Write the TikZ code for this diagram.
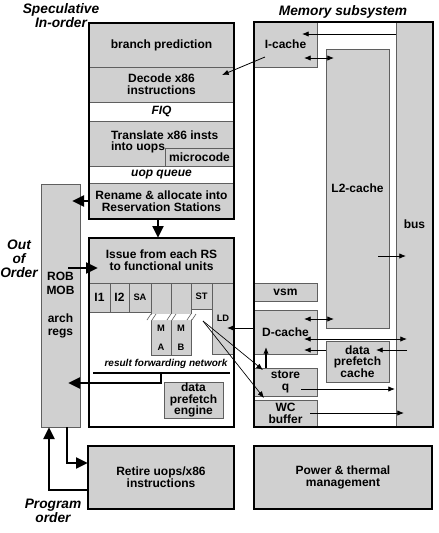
\documentclass[tikz,border=0pt]{standalone}
\usepackage{fontspec}
\setmainfont{Liberation Sans}
\usetikzlibrary{arrows.meta}
\definecolor{boxgray}{RGB}{208,208,208}
\definecolor{edgegray}{RGB}{95,95,95}
\newcommand\lbl{\fontsize{9}{8.7}\selectfont\bfseries}
\newcommand\roblbl{\fontsize{9}{10.3}\selectfont\bfseries}
\newcommand\smlbl{\fontsize{7}{7}\selectfont\bfseries}
\newcommand\netlbl{\fontsize{7.5}{7.5}\selectfont\bfseries\itshape}
\newcommand\ttl{\fontsize{10.3}{10.6}\selectfont\bfseries\itshape}
\newcommand\rbox[7][]{\node[#1, minimum width={(#5-#3)*0.75pt}, minimum height={(#6-#4)*0.75pt}] (#2) at ({(#3+#5)/2},{(#4+#6)/2}) {#7};}
\tikzset{
  bx/.style={inner sep=0pt, outer sep=0pt, align=center, font=\lbl},
  rowg/.style={bx, fill=boxgray, draw=edgegray, line width=0.5pt},
  roww/.style={bx, fill=white, draw=edgegray, line width=0.5pt},
  gbox/.style={bx, fill=boxgray, draw=edgegray, line width=0.6pt},
  unitbox/.style={bx, fill=boxgray, draw=edgegray, line width=0.5pt, font=\smlbl},
  frame/.style={bx, draw=black, line width=1.7pt},
  framegray/.style={frame, fill=boxgray},
  thinarr/.style={-{Latex[length=5pt,width=4pt]}, line width=0.6pt},
  dblarr/.style={{Latex[length=5pt,width=4pt]}-{Latex[length=5pt,width=4pt]}, line width=0.6pt},
  thickarr/.style={-{Triangle[length=9pt,width=8pt]}, line width=2.2pt},
  netline/.style={line width=2pt},
  ttlstyle/.style={font=\ttl, align=center, inner sep=0pt},
}
\begin{document}
\begin{tikzpicture}[x=0.75pt,y=-0.75pt]
\useasboundingbox (0,0) rectangle (439,533);

% ---------- titles ----------
\node[ttlstyle] (tspec) at (61,16) {Speculative\\In-order};
\node[ttlstyle] (tooo) at (19,259) {Out\\of\\Order};
\node[ttlstyle] (tprog) at (53,511) {Program\\order};
\node[ttlstyle] (tmem) at (343,12) {Memory subsystem};

% ---------- front end column ----------
\rbox[rowg]{bp}{89}{23}{234}{67}{branch prediction}
\rbox[rowg]{dec}{89}{67}{234}{102}{Decode x86\\instructions}
\rbox[roww]{fiq}{89}{102}{234}{121}{\itshape FIQ}
\rbox[rowg]{tr}{89}{121}{234}{166}{}
\rbox[rowg]{mc}{165}{148}{234}{166}{microcode}
\node[bx, align=left, anchor=west] (trtxt) at (111,142) {Translate x86 insts\\into uops};
\rbox[roww]{uq}{89}{166}{234}{183}{\itshape uop queue}
\rbox[rowg]{ren}{89}{183}{234}{219}{Rename \& allocate into\\Reservation Stations}
\rbox[frame]{front}{89}{23}{234}{219}{}

% ---------- ROB ----------
\rbox[gbox, font=\roblbl]{rob}{41}{184}{80}{427}{ROB\\MOB\\[10.3pt]arch\\regs}

% ---------- issue / execution ----------
\rbox[rowg]{iss}{89}{238}{234}{283}{Issue from each RS\\to functional units}
\rbox[unitbox, font=\lbl]{ione}{89}{283}{110}{312}{I1}
\rbox[unitbox, font=\lbl]{itwo}{110}{283}{129}{312}{I2}
\rbox[unitbox]{sa}{129}{283}{151}{312}{SA}
\rbox[unitbox]{ma}{151}{283}{171}{355}{}
\rbox[unitbox]{mb}{171}{283}{191}{355}{}
\rbox[unitbox]{st}{191}{283}{212}{309}{ST}
\rbox[unitbox]{ld}{212}{283}{234}{354}{}
\node[bx, font=\smlbl] (ldtxt) at (223,318) {LD};
\node[bx, font=\smlbl] (mam) at (161,328) {M};
\node[bx, font=\smlbl] (maa) at (161,347) {A};
\node[bx, font=\smlbl] (mbm) at (181,328) {M};
\node[bx, font=\smlbl] (mbb) at (181,347) {B};
% break marks on the MA/MB columns
\fill[white] (148,320) -- (152,314) -- (195,314) -- (191,320) -- cycle;
\draw[edgegray, line width=0.5pt] (147,320) -- (151,314) (167,320) -- (171,314) (187,320) -- (191,314);
\draw[edgegray, line width=0.5pt] (152,320) -- (156,314) (172,320) -- (176,314) (192,320) -- (196,314);
\node[bx, font=\netlbl] (nettxt) at (166,364) {result forwarding network};
\coordinate (netL) at (93,373);
\coordinate (netR) at (230,373);
\coordinate (netM) at (161,373);
\draw[netline] (netL) -- (netR);
\rbox[gbox]{dpe}{164}{382}{223}{418}{data\\prefetch\\engine}
\rbox[frame]{issout}{89}{238}{234}{427}{}

% ---------- memory subsystem ----------
\rbox[bx, fill=white]{memfill}{254}{22}{433}{427}{}
\rbox[gbox]{bus}{396}{22}{433}{427}{bus}
\rbox[gbox]{ic}{254}{22}{317}{67}{I-cache}
\rbox[gbox]{ltwo}{326}{49}{389}{328}{L2-cache}
\rbox[gbox]{vsm}{254}{283}{317}{301}{vsm}
\rbox[gbox]{dc}{254}{310}{317}{354}{D-cache}
\rbox[gbox]{dpc}{326}{341}{389}{382}{data\\prefetch\\cache}
\rbox[gbox]{sq}{254}{368}{317}{396}{store\\q}
\rbox[gbox]{wc}{254}{400}{317}{427}{WC\\buffer}
\rbox[frame]{mem}{254}{22}{433}{427}{}

% ---------- bottom ----------
\rbox[framegray]{ret}{88}{446}{234}{509}{Retire uops/x86\\instructions}
\rbox[framegray]{pwr}{254}{446}{432}{509}{Power \& thermal\\management}

% ---------- thin connectors ----------
\coordinate (icA) at (265,57);
\coordinate (decA) at (222,75);
\draw[thinarr] (icA) -- (decA);
\draw[thinarr] (bus.west |- 0,34) -- (302,34);
\draw[dblarr] (304,58) -- (334,58);
\draw[thinarr] (378,256) -- (406,256);
\draw[dblarr] (304,319) -- (334,319);
\draw[dblarr] (304,339) -- (407,339);
\draw[thinarr] (dpc.west |- 0,350) -- (304,350);
\draw[thinarr] (407,350) -- (376,350);
\draw[thinarr] (dc.west |- 0,328) -- (227,328);
\draw[thinarr, line width=0.9pt] (sq.north -| 266,0) -- (266,347);
\draw[thinarr] (301,389) -- (395,389);
\draw[thinarr] (310,413) -- (404,413);
\coordinate (stA) at (203,321);
\draw[thinarr, line width=0.5pt] (stA) -- (263,370);
\draw[thinarr, line width=0.5pt] (stA) -- (264,398);

% ---------- thick connectors ----------
\draw[thickarr] (ren.west) -- ++(-17,0);
\draw[thickarr] (68,268) -- (98,268);
\draw[thickarr] (ren.south -| 158,0) -- (iss.north -| 158,0);
\draw[thickarr] (netM) -- (161,383) -- (68,383);
\draw[thickarr] (rob.south -| 67,0) -- (67,463) -- (ret.west |- 0,463);
\draw[thickarr] (ret.west |- 0,490) -- (49,490) -- (rob.south -| 49,0);
\end{tikzpicture}
\end{document}
